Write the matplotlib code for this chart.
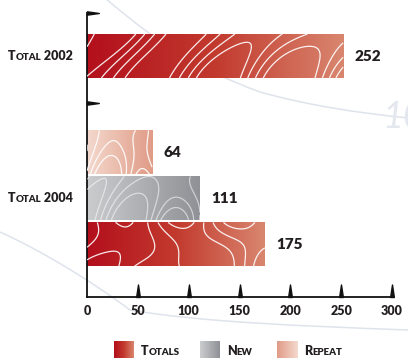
import numpy as np
import matplotlib
matplotlib.use("Agg")
import matplotlib.pyplot as plt
from matplotlib.colors import LinearSegmentedColormap
from matplotlib.offsetbox import TextArea, HPacker, AnnotationBbox
from matplotlib.path import Path
from matplotlib.patches import PathPatch

plt.rcParams['font.family'] = ['Lato', 'DejaVu Sans']

# data
groups = ["Total 2002", "Total 2004"]
totals = [252, 175]
new = [None, 111]
repeat = [None, 64]
xticks = [0, 50, 100, 150, 200, 250, 300]

group_pos = [0.935, 4.03]
bar_h = 0.957

cmaps = {
    "Totals": LinearSegmentedColormap.from_list("tot", ["#b30f1c", "#c23a2e", "#d9866f"]),
    "New": LinearSegmentedColormap.from_list("new", ["#cbccce", "#8f9196"]),
    "Repeat": LinearSegmentedColormap.from_list("rep", ["#f4d9ce", "#e09b86"]),
}


def small_caps(word_parts, big=9.0, small=7.0, color="#231f20"):
    """word_parts: list of (text, is_big)"""
    boxes = [TextArea(t, textprops=dict(size=big if b else small, weight="heavy", color=color))
             for t, b in word_parts]
    return HPacker(children=boxes, align="baseline", pad=0, sep=0)


def contour_texture(ax, bar, seed, alpha):
    x0, y0 = bar.get_x(), bar.get_y()
    w, h = bar.get_width(), bar.get_height()
    u = np.linspace(0, 1, 300)
    v = np.linspace(0, 1, 80)
    U, V = np.meshgrid(u, v)
    a, b, c, d = seed
    px = U * w / 45.0  # roughly bar heights along x
    Z = (np.sin(2 * np.pi * (a * px + b))
         + 1.6 * (V - 0.5) * np.cos(2 * np.pi * (c * px + d))
         + 0.5 * np.sin(2 * np.pi * (0.5 * V + 0.3 * px)))
    ax.contour(x0 + U * w, y0 + V * h, Z, levels=[-0.9, -0.2, 0.5, 1.1],
               colors="white", linewidths=0.9, linestyles="solid", alpha=alpha, zorder=3)


def gradient_bar(ax, bar, cmap):
    x0, y0 = bar.get_x(), bar.get_y()
    w, h = bar.get_width(), bar.get_height()
    grad = np.linspace(0, 1, 256).reshape(1, -1)
    im = ax.imshow(grad, cmap=cmap, aspect="auto", extent=(x0, x0 + w, y0 + h, y0),
                   zorder=2, interpolation="bicubic")
    im.set_clip_path(bar)


fig = plt.figure(figsize=(4.08, 3.6), dpi=100)

# faint background arcs
def arc(pts, lw=1.0, color="#dfe3ec"):
    verts = [(x / 408, 1 - y / 360) for x, y in pts]
    codes = [Path.MOVETO] + [Path.CURVE4] * (len(verts) - 1)
    fig.add_artist(PathPatch(Path(verts, codes), transform=fig.transFigure,
                             fill=False, edgecolor=color, lw=lw, zorder=0))

arc([(105, -2), (160, 45), (200, 70), (260, 92)], lw=1.1)
arc([(260, 92), (310, 106), (360, 113), (408, 118)], lw=1.1)
arc([(0, 232), (40, 250), (90, 280), (130, 310)], lw=1.1)
arc([(130, 310), (200, 322), (300, 326), (408, 330)], lw=1.1)
fig.text(382 / 408, 1 - 118 / 360, "10", size=26, style="italic", color="#e4e7ee",
         va="center", ha="left", zorder=0)

ax = fig.add_axes([87 / 408, 63 / 360, 305 / 408, 284 / 360])
ax.set_facecolor("none")

order = [("Repeat", repeat, -1), ("New", new, 0), ("Totals", totals, 1)]
seeds = {("Totals", 0): (0.35, 0.15, 0.3, 0.2), ("Totals", 1): (0.3, 0.6, 0.45, 0.55),
         ("New", 1): (0.55, 0.2, 0.5, 0.1), ("Repeat", 1): (0.7, 0.4, 0.6, 0.3)}

for gi, gp in enumerate(group_pos):
    for name, vals, off in order:
        val = vals[gi]
        if val is None:
            continue
        y = gp if gi == 0 else gp + off * 1.0
        bars = ax.barh(y, val, height=bar_h, color="none", edgecolor="none", zorder=2)
        bar = bars.patches[0]
        gradient_bar(ax, bar, cmaps[name])
        contour_texture(ax, bar, seeds[(name, gi)], 0.55 if name == "New" else 0.9)
        ax.annotate(str(val), (val, y), xytext=(8, 0), textcoords="offset points",
                    va="center", ha="left", size=11, weight="heavy", color="#231f20")

    label = groups[gi].split()
    sc = small_caps([(label[0][0], True), (label[0][1:].upper(), False), (" " + label[1], True)])
    ab = AnnotationBbox(sc, (-0.045, gp), xycoords=("axes fraction", "data"),
                        box_alignment=(1, 0.5), frameon=False, pad=0, annotation_clip=False)
    ax.add_artist(ab)

ax.set_xlim(0, 300)
ax.set_ylim(6.174, 0)

for s in ["top", "right"]:
    ax.spines[s].set_visible(False)
for s in ["left", "bottom"]:
    ax.spines[s].set_linewidth(1.3)
    ax.spines[s].set_color("#111111")

ax.set_yticks([])
ax.set_xticks(xticks)
ax.set_xticklabels([str(t) for t in xticks], size=9, weight="heavy", color="#231f20")
ax.tick_params(axis="x", length=0, pad=6)
ax.get_xticklabels()[0].set_x(-1.5)

# spiked ticks along the bottom
spike = Path([(-0.3, 0), (0, 2), (0.3, 0), (-0.3, 0)],
             [Path.MOVETO, Path.LINETO, Path.LINETO, Path.CLOSEPOLY])
ax.plot(xticks[1:], [6.174] * (len(xticks) - 1), linestyle="none", marker=spike,
        markersize=18, color="#111111", clip_on=False, zorder=4)

# pennants on the vertical axis
flag = Path([(0, 0.14), (1, 0.0), (0, -0.14), (0, 0.14)],
            [Path.MOVETO, Path.LINETO, Path.LINETO, Path.CLOSEPOLY])
ax.plot([0, 0], [0, 1.96], linestyle="none", marker=flag, markersize=17,
        color="#111111", clip_on=False, zorder=4)

# legend
legend = [("Totals", 114, [("T", True), ("OTALS", False)]),
          ("New", 200, [("N", True), ("EW", False)]),
          ("Repeat", 277, [("R", True), ("EPEAT", False)])]
grad = np.linspace(0, 1, 64).reshape(1, -1)
for name, px, parts in legend:
    sw = fig.add_axes([px / 408, 2 / 360, 20 / 408, 17 / 360])
    g = grad if name != "Repeat" else grad[:, ::-1]
    sw.imshow(g, cmap=cmaps[name], aspect="auto")
    sw.axis("off")
    ab = AnnotationBbox(small_caps(parts), ((px + 27) / 408, 1 - 351 / 360),
                        xycoords="figure fraction", box_alignment=(0, 0.5),
                        frameon=False, pad=0)
    fig.add_artist(ab)

fig.savefig("out.png", dpi=100)
